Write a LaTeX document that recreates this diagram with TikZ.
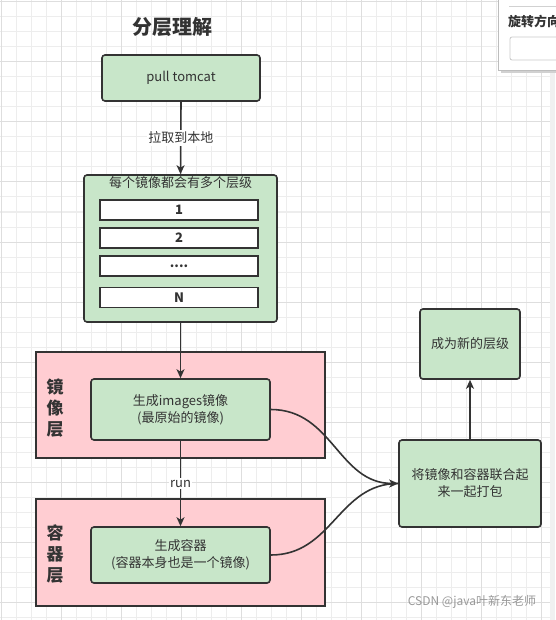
\documentclass[tikz,border=0pt]{standalone}
\usepackage{fontspec}
\setmainfont{Noto Sans CJK SC}
\usetikzlibrary{arrows.meta}
\definecolor{gfill}{HTML}{C8E6C9}
\definecolor{pfill}{HTML}{FFCDD2}
\definecolor{ink}{HTML}{333333}
\definecolor{gridminor}{HTML}{EDEDED}
\definecolor{gridmajor}{HTML}{DEDEDE}
\definecolor{strip}{HTML}{F0F0F0}
\definecolor{panelline}{HTML}{BDBDBD}
\definecolor{wmark}{HTML}{999999}
\begin{document}
\begin{tikzpicture}[x=1pt,y=-1pt,
  gbox/.style={draw=ink, line width=1.6pt, fill=gfill, rounded corners=3pt, text=ink,
    font=\fontsize{13}{17}\selectfont, align=center, inner sep=0pt},
  pbox/.style={draw=ink, line width=1.6pt, fill=pfill, inner sep=0pt},
  wbox/.style={draw=ink, line width=1.6pt, fill=white, text=ink,
    font=\fontsize{13}{15}\selectfont\bfseries, inner sep=0pt,
    minimum width=158pt, minimum height=20pt},
  conn/.style={draw=ink, line width=1.6pt, -{Stealth[length=9pt,width=8pt,inset=2.5pt]}},
  plain/.style={draw=ink, line width=1.6pt},
  lbl/.style={fill=white, text=ink, font=\fontsize{13}{15}\selectfont, inner sep=1.5pt},
  vlbl/.style={text=ink, font=\fontsize{17}{21}\selectfont\bfseries, align=center, inner sep=0pt},
]
\useasboundingbox (0,0) rectangle (555,620);
\fill[white] (0,0) rectangle (555,620);
% grid
\foreach \xx in {1,16,...,556} {\draw[gridminor, line width=1pt] (\xx,0) -- (\xx,620);}
\foreach \yy in {2,17,...,617} {\draw[gridminor, line width=1pt] (0,\yy) -- (555,\yy);}
\foreach \xx in {1,61,...,541} {\draw[gridmajor, line width=1pt] (\xx,0) -- (\xx,620);}
\foreach \yy in {2,62,...,602} {\draw[gridmajor, line width=1pt] (0,\yy) -- (555,\yy);}
\fill[strip] (550,0) rectangle (555,620);

% UI panel at top right
\fill[black!18] (501,-5) rectangle (560,73);
\filldraw[fill=white, draw=panelline, line width=0.8pt] (498,-5) rectangle (560,70);
\draw[panelline!70, line width=0.8pt] (509,6) -- (560,6);
\node[anchor=west, inner sep=0pt, text=ink, font=\fontsize{13}{15}\selectfont\bfseries] (paneltitle) at (508,22) {旋转方向};
\draw[panelline!80, line width=0.8pt, rounded corners=2pt] (510,37) rectangle (566,60);

% title
\node[text=ink, font=\fontsize{20}{24}\selectfont\bfseries] (title) at (172,27) {分层理解};

% pink layer boxes
\node[pbox, minimum width=289pt, minimum height=106pt] (pink1) at (180.5,405) {};
\node[pbox, minimum width=289pt, minimum height=107pt] (pink2) at (180.5,552.5) {};
\node[vlbl] (lab1) at (55,408) {镜\\像\\层};
\node[vlbl] (lab2) at (55,554) {容\\器\\层};

% green boxes
\node[gbox, minimum width=158pt, minimum height=46pt] (pull) at (181,78) {pull tomcat};
\node[gbox, minimum width=193pt, minimum height=147pt] (layers) at (180.5,248.5) {};
\node[text=ink, font=\fontsize{13}{15}\selectfont, inner sep=0pt] (layerstitle) at (180.5,183) {每个镜像都会有多个层级};
\node[wbox] (l1) at (179,210) {1};
\node[wbox] (l2) at (179,238) {2};
\node[wbox] (l3) at (179,266) {....};
\node[wbox] (l4) at (179,297.5) {N};

\node[gbox, minimum width=179pt, minimum height=61pt] (img) at (180.5,409.5) {生成images镜像\\(最原始的镜像)};
\node[gbox, minimum width=179pt, minimum height=56pt] (cont) at (180.5,555) {生成容器\\(容器本身也是一个镜像)};
\node[gbox, minimum width=142pt, minimum height=87pt] (pack) at (470,483.5) {将镜像和容器联合起\\来一起打包};
\node[gbox, minimum width=100pt, minimum height=70pt] (newl) at (470,344) {成为新的层级};

% connectors
\draw[conn] (pull.south) -- node[lbl] {拉取到本地} (layers.north);
\draw[conn] (layers.south) -- (img.north);
\draw[conn] (img.south) -- node[lbl] {run} (cont.north);
\draw[plain] (cont.east) .. controls +(62,0) and +(-60,0) .. (pack.west);
\draw[conn] (img.east) .. controls +(62,0) and +(-60,0) .. (pack.west);
\draw[conn] (pack.north) -- (newl.south);

% watermark
\node[text=wmark, font=\fontsize{12}{14}\selectfont, inner sep=0pt] (wm) at (472,602) {CSDN @java叶新东老师};
\end{tikzpicture}
\end{document}
